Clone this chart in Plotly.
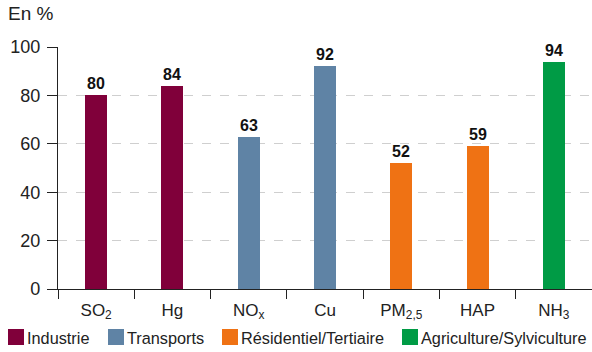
import plotly.graph_objects as go

# Emission shares by pollutant, grouped by dominant sector
categories = ["SO<sub>2</sub>", "Hg", "NO<sub>x</sub>", "Cu", "PM<sub>2,5</sub>", "HAP", "NH<sub>3</sub>"]
sectors = ["Industrie", "Transports", "Résidentiel/Tertiaire", "Agriculture/Sylviculture"]
sector_of = ["Industrie", "Industrie", "Transports", "Transports",
             "Résidentiel/Tertiaire", "Résidentiel/Tertiaire", "Agriculture/Sylviculture"]
values = [80, 84, 63, 92, 52, 59, 94]
colors = {
    "Industrie": "#80003a",
    "Transports": "#5f83a5",
    "Résidentiel/Tertiaire": "#ef7214",
    "Agriculture/Sylviculture": "#009b45",
}
y_ticks = [0, 20, 40, 60, 80, 100]

FONT = "Liberation Sans, Arial, sans-serif"

fig = go.Figure()
for s in sectors:
    xs = [c for c, sec in zip(categories, sector_of) if sec == s]
    ys = [v for v, sec in zip(values, sector_of) if sec == s]
    fig.add_trace(go.Bar(
        x=xs, y=ys, name=s,
        marker=dict(color=colors[s], line=dict(width=0)),
        width=0.29,
        text=[str(v) for v in ys],
        textposition="outside",
        texttemplate="<b>%{text}</b>",
        textfont=dict(family=FONT, size=16, color="#111111"),
        cliponaxis=False,
        showlegend=False,
    ))

# Legend row drawn along the bottom
legend_x = [8, 108, 222, 402]
shapes = []
annotations = []
W = 592
H = 352
for s, lx in zip(sectors, legend_x):
    shapes.append(dict(type="rect", xref="paper", yref="paper",
                       x0=(lx - 58) / (W - 58), x1=(lx + 16 - 58) / (W - 58),
                       y0=(289 - 345) / 242, y1=(289 - 329) / 242,
                       fillcolor=colors[s], line=dict(width=0), layer="above"))
    annotations.append(dict(text=s, xref="paper", yref="paper",
                            x=(lx + 17 - 58) / (W - 58), y=(289 - 337.5) / 242,
                            xanchor="left", yanchor="middle", showarrow=False,
                            font=dict(family=FONT, size=16.3, color="#222222")))

annotations.append(dict(text="En %", xref="paper", yref="paper",
                        x=(6 - 58) / (W - 58), y=(289 - 14) / 242,
                        xanchor="left", yanchor="middle", showarrow=False,
                        font=dict(family=FONT, size=19, color="#222222")))

fig.update_layout(
    width=W, height=H,
    margin=dict(l=58, r=0, t=47, b=63),
    paper_bgcolor="white", plot_bgcolor="white",
    barmode="overlay",
    bargap=0,
    font=dict(family=FONT, size=17, color="#222222"),
    shapes=shapes,
    annotations=annotations,
    xaxis=dict(
        type="category",
        categoryorder="array", categoryarray=categories,
        showline=True, linecolor="#222222", linewidth=1.3,
        ticks="outside", ticklen=9, tickcolor="#222222", tickwidth=1.3,
        tickson="boundaries",
        ticklabelstandoff=5,
        tickfont=dict(family=FONT, size=17, color="#222222"),
        showgrid=False, zeroline=False,
        range=[-0.5, 6.5],
    ),
    yaxis=dict(
        range=[0, 100],
        tickvals=y_ticks,
        showline=True, linecolor="#222222", linewidth=1.3,
        ticks="outside", ticklen=10, tickcolor="#222222", tickwidth=1.3,
        ticklabelstandoff=3,
        tickfont=dict(family=FONT, size=18, color="#222222"),
        showgrid=True, gridcolor="#cfcfcf", griddash="dash", gridwidth=1,
        zeroline=False,
    ),
)

fig.write_html("out.html")
